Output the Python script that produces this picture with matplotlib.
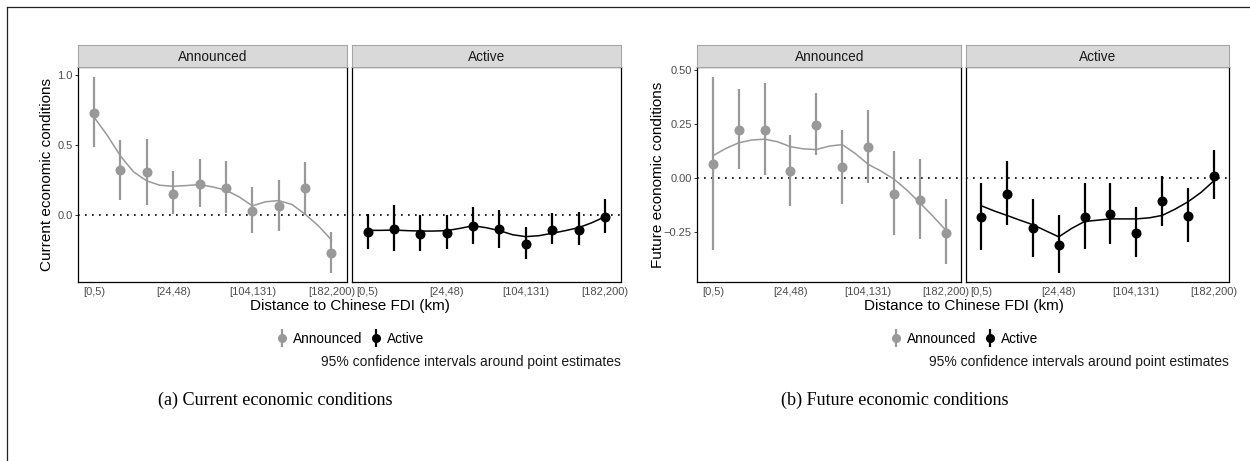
import numpy as np
import matplotlib
matplotlib.use("Agg")
import matplotlib.pyplot as plt
from matplotlib.lines import Line2D
from matplotlib.ticker import FuncFormatter

plt.rcParams['font.family'] = ['Liberation Sans', 'DejaVu Sans']

# distance bins (10 bins, only every third one is labelled on the axis)
tick_labels = ['[0,5)', '[24,48)', '[104,131)', '[182,200)']

# (a) current economic conditions
cur_ann_est = [0.73, 0.32, 0.306, 0.15, 0.225, 0.197, 0.028, 0.064, 0.192, -0.27]
cur_ann_lo = [0.486, 0.11, 0.073, 0.007, 0.059, 0.016, -0.13, -0.11, 0.0, -0.41]
cur_ann_hi = [0.99, 0.54, 0.545, 0.313, 0.403, 0.386, 0.2, 0.254, 0.379, -0.12]
cur_ann_smooth = [0.699, 0.569, 0.422, 0.308, 0.244, 0.213, 0.206, 0.211, 0.218, 0.201,
                  0.178, 0.130, 0.066, 0.095, 0.104, 0.076, 0.007, -0.076, -0.178]

cur_act_est = [-0.121, -0.102, -0.135, -0.128, -0.076, -0.102, -0.206, -0.107, -0.104, -0.014]
cur_act_lo = [-0.242, -0.258, -0.254, -0.24, -0.206, -0.232, -0.315, -0.208, -0.216, -0.128]
cur_act_hi = [0.007, 0.069, 0.002, -0.002, 0.059, 0.038, -0.083, 0.012, 0.021, 0.114]
cur_act_smooth = [-0.109, -0.109, -0.107, -0.111, -0.114, -0.114, -0.111, -0.095, -0.076, -0.090,
                  -0.111, -0.140, -0.154, -0.147, -0.130, -0.111, -0.090, -0.055, -0.012]

# (b) future economic conditions
fut_ann_est = [0.063, 0.221, 0.221, 0.031, 0.244, 0.05, 0.141, -0.075, -0.103, -0.253]
fut_ann_lo = [-0.332, 0.039, 0.011, -0.13, 0.106, -0.119, -0.023, -0.265, -0.284, -0.398]
fut_ann_hi = [0.469, 0.409, 0.437, 0.196, 0.392, 0.221, 0.313, 0.125, 0.088, -0.097]
fut_ann_smooth = [0.102, 0.136, 0.162, 0.175, 0.179, 0.167, 0.144, 0.134, 0.131, 0.147,
                  0.154, 0.113, 0.063, 0.031, -0.006, -0.057, -0.116, -0.177, -0.242]

fut_act_est = [-0.18, -0.075, -0.233, -0.312, -0.18, -0.168, -0.253, -0.108, -0.176, 0.008]
fut_act_lo = [-0.333, -0.218, -0.366, -0.438, -0.328, -0.308, -0.367, -0.221, -0.296, -0.1]
fut_act_hi = [-0.022, 0.08, -0.096, -0.174, -0.026, -0.022, -0.134, 0.009, -0.049, 0.128]
fut_act_smooth = [-0.129, -0.153, -0.174, -0.196, -0.217, -0.245, -0.273, -0.234, -0.202, -0.196,
                  -0.190, -0.190, -0.190, -0.185, -0.174, -0.145, -0.111, -0.068, -0.014]

GREY = '#999999'
W, H = 1250, 461

fig = plt.figure(figsize=(W / 100, H / 100), dpi=100)


def px_axes(x0, y0, x1, y1):
    return fig.add_axes([x0 / W, 1 - y1 / H, (x1 - x0) / W, (y1 - y0) / H])


def minus_fmt(fmt):
    return FuncFormatter(lambda v, p: (fmt % v).replace('-', '\u2212'))


def draw_panel(ax, est, lo, hi, smooth, color, ylim, yticks, fmt, first):
    x = np.arange(1, len(est) + 1)
    est = np.array(est)
    err = [est - np.array(lo), np.array(hi) - est]
    xs = np.arange(1, len(est) + 0.01, 0.5)
    ax.axhline(0, color='black', lw=1.2, ls=(0, (1, 3.2)), zorder=1)
    ax.errorbar(x, est, yerr=err, fmt='o', color=color, ms=6.2, elinewidth=1.6,
                capsize=0, zorder=3)
    ax.plot(xs, smooth, color=color, lw=1.1, zorder=4)
    ax.set_xlim(0.4, len(est) + 0.6)
    ax.set_ylim(*ylim)
    ax.set_xticks(x[::3])
    ax.set_xticklabels(tick_labels)
    ax.tick_params(axis='x', length=0, pad=3.5, labelsize=8, labelcolor='#4d4d4d')
    if first:
        ax.set_yticks(yticks)
        ax.yaxis.set_major_formatter(minus_fmt(fmt))
        ax.tick_params(axis='y', length=2.5, width=0.7, color='#333333', pad=1.5,
                       labelsize=8, labelcolor='#4d4d4d')
    else:
        ax.set_yticks([])
    for s in ax.spines.values():
        s.set_color('black')
        s.set_linewidth(0.9)


def draw_strip(x0, x1, label):
    sax = px_axes(x0, 45, x1, 66.7)
    sax.set_facecolor('#d9d9d9')
    sax.set_xticks([])
    sax.set_yticks([])
    for s in sax.spines.values():
        s.set_color('#a6a6a6')
        s.set_linewidth(0.8)
    sax.text(0.5, 0.45, label, ha='center', va='center', fontsize=9.8,
             color='#1a1a1a', transform=sax.transAxes)


def ylims(lo_lists, hi_lists):
    lo = min(min(l) for l in lo_lists)
    hi = max(max(h) for h in hi_lists)
    pad = (hi - lo) * 0.05
    return lo - pad, hi + pad


def pointrange_handle(color):
    bar = Line2D([], [], color=color, marker='|', ms=13, mew=1.6, ls='none')
    dot = Line2D([], [], color=color, marker='o', ms=5.5, ls='none')
    return (bar, dot)


# left figure
yl = ylims([cur_ann_lo, cur_act_lo], [cur_ann_hi, cur_act_hi])
ax1 = px_axes(78.3, 66.7, 347.3, 282.3)
draw_panel(ax1, cur_ann_est, cur_ann_lo, cur_ann_hi, cur_ann_smooth, GREY, yl,
           [0.0, 0.5, 1.0], '%.1f', True)
ax2 = px_axes(351.7, 66.7, 620.7, 282.3)
draw_panel(ax2, cur_act_est, cur_act_lo, cur_act_hi, cur_act_smooth, 'black', yl,
           [], '%.1f', False)
draw_strip(78.3, 347.3, 'Announced')
draw_strip(351.7, 620.7, 'Active')

# right figure
yr = ylims([fut_ann_lo, fut_act_lo], [fut_ann_hi, fut_act_hi])
ax3 = px_axes(697.3, 66.7, 961.3, 282.3)
draw_panel(ax3, fut_ann_est, fut_ann_lo, fut_ann_hi, fut_ann_smooth, GREY, yr,
           [-0.25, 0.0, 0.25, 0.5], '%.2f', True)
ax4 = px_axes(965.7, 66.7, 1229.3, 282.3)
draw_panel(ax4, fut_act_est, fut_act_lo, fut_act_hi, fut_act_smooth, 'black', yr,
           [], '%.2f', False)
draw_strip(697.3, 961.3, 'Announced')
draw_strip(965.7, 1229.3, 'Active')

# titles, legends, captions
for xc, x_right, ylab, ylab_x, sub, sub_x in [
        (351, 620.7, 'Current economic conditions', 47, '(a) Current economic conditions', 275.5),
        (965, 1229.3, 'Future economic conditions', 658, '(b) Future economic conditions', 895)]:
    fig.text((xc - 1.5) / W, 1 - 306 / H, 'Distance to Chinese FDI (km)', ha='center',
             va='center', fontsize=11)
    fig.text(ylab_x / W, 1 - 174.5 / H, ylab, rotation=90, ha='center', va='center',
             fontsize=11)
    fig.legend([pointrange_handle(GREY), pointrange_handle('black')], ['Announced', 'Active'],
               loc='center', bbox_to_anchor=(xc / W, 1 - 339 / H), ncol=2, frameon=False,
               fontsize=9.8, handlelength=0.6, handletextpad=0.5, columnspacing=0.75,
               borderaxespad=0, borderpad=0)
    fig.text(x_right / W, 1 - 362 / H, '95% confidence intervals around point estimates',
             ha='right', va='center', fontsize=10, color='#1a1a1a')
    fig.text(sub_x / W, 1 - 400 / H, sub, ha='center', va='center', fontsize=13.1,
             family=['Liberation Serif', 'DejaVu Serif'])

# frame lines at top and left of the crop
fig.add_artist(Line2D([7 / W, 1], [1 - 7.3 / H, 1 - 7.3 / H], color='#222222', lw=0.9,
                      transform=fig.transFigure))
fig.add_artist(Line2D([7 / W, 7 / W], [0, 1 - 7.3 / H], color='#222222', lw=0.9,
                      transform=fig.transFigure))

fig.savefig('out.png', dpi=100)
